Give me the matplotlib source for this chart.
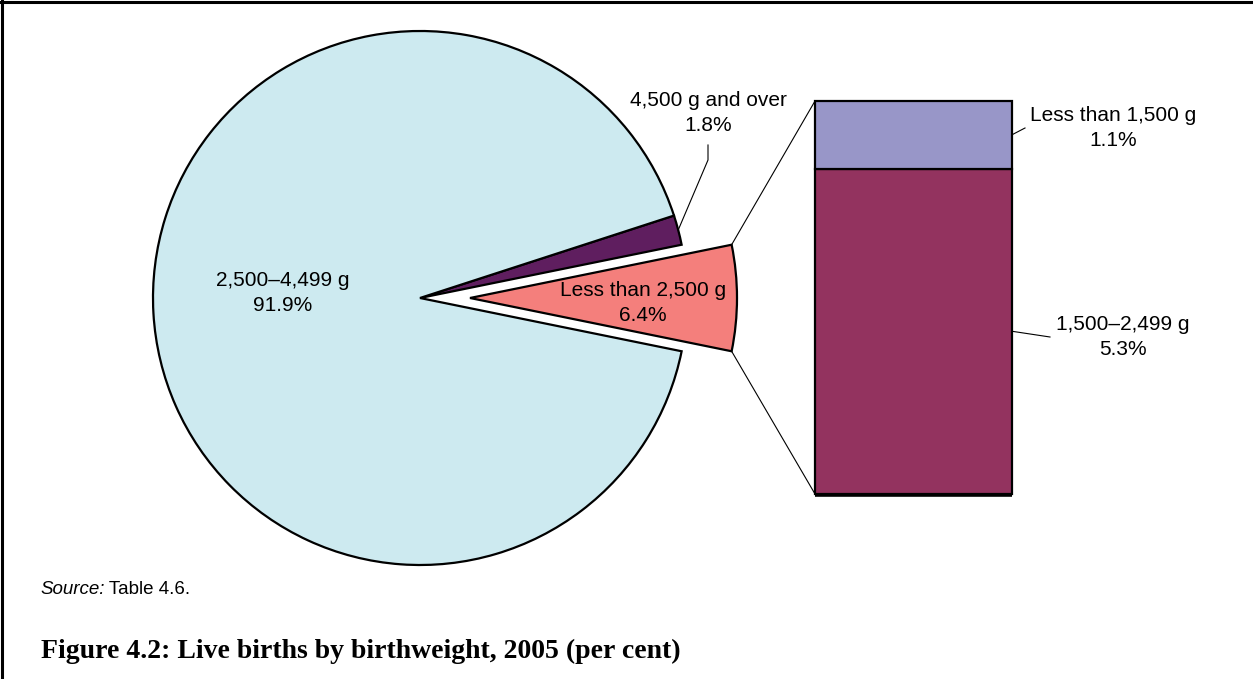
import matplotlib
matplotlib.use("Agg")
import matplotlib.pyplot as plt
from matplotlib.lines import Line2D
import numpy as np

# Birthweight shares (per cent), 2005
pie_labels = ["Less than 2,500 g", "4,500 g and over", "2,500\u20134,499 g"]
pie_values = [6.4, 1.8, 91.9]
pie_colors = ["#F47F7C", "#5F1E5F", "#CDEAF0"]

# Breakdown of the "Less than 2,500 g" slice
bar_labels = ["1,500\u20132,499 g", "Less than 1,500 g"]
bar_values = [5.3, 1.1]
bar_colors = ["#93335F", "#9896C8"]

W, H = 1253, 679
plt.rcParams["font.family"] = ["Liberation Sans", "DejaVu Sans"]

fig = plt.figure(figsize=(W / 100, H / 100), dpi=100)
ax = fig.add_axes([0, 0, 1, 1])

# pixel-like coordinate system (y measured from the bottom)
def py(y):
    return H - y

cx, cy, R = 420, py(298), 267
shift = 50
half = pie_values[0] / sum(pie_values) * 360 / 2

wedges, _ = ax.pie(
    pie_values, colors=pie_colors, startangle=-half, counterclock=True,
    center=(cx, cy), radius=R, explode=[shift, 0, 0], normalize=True,
    wedgeprops=dict(edgecolor="black", linewidth=1.6, joinstyle="miter"),
)

# stacked bar for the breakdown
bx0, bx1 = 815, 1012
by_bottom, by_top = py(494), py(101)
scale = (by_top - by_bottom) / sum(bar_values)
bottom = by_bottom
bar_mid = []
for v, c in zip(bar_values, bar_colors):
    ax.bar((bx0 + bx1) / 2, v * scale, width=bx1 - bx0, bottom=bottom,
           color=c, edgecolor="black", linewidth=1.6)
    bar_mid.append(bottom + v * scale / 2)
    bottom += v * scale
ax.plot([bx0, bx1], [by_bottom - 1, by_bottom - 1], color="black", lw=2.6,
        solid_capstyle="butt")

# connector lines from the exploded slice to the bar
ex = cx + shift
for ang, by in [(half, by_top), (-half, by_bottom)]:
    x0 = ex + R * np.cos(np.radians(ang))
    y0 = cy + R * np.sin(np.radians(ang))
    ax.plot([x0, bx0], [y0, by], color="black", lw=0.8)

fs = 15
ls = 1.42

def fmt(name, v):
    return f"{name}\n{v:.1f}%"

# pie labels
ax.text(643, py(303), fmt(pie_labels[0], pie_values[0]), ha="center",
        va="center", fontsize=fs, linespacing=ls)
ax.text(283, py(293), fmt(pie_labels[2], pie_values[2]), ha="center",
        va="center", fontsize=fs, linespacing=ls)
ax.text(708, py(113), fmt(pie_labels[1], pie_values[1]), ha="center",
        va="center", fontsize=fs, linespacing=ls)
mid_ang = np.radians(half + pie_values[1] / sum(pie_values) * 180)
ax.plot([cx + R * np.cos(mid_ang), 708, 708],
        [cy + R * np.sin(mid_ang), py(160), py(145)], color="black", lw=0.8)

# bar labels
ax.text(1113, py(128), fmt(bar_labels[1], bar_values[1]), ha="center",
        va="center", fontsize=fs, linespacing=ls)
ax.plot([bx1, 1025], [bar_mid[1], py(128)], color="black", lw=0.8)
ax.text(1123, py(337), fmt(bar_labels[0], bar_values[0]), ha="center",
        va="center", fontsize=fs, linespacing=ls)
ax.plot([bx1, 1050], [bar_mid[0], py(337)], color="black", lw=0.8)

# source note and caption
src = ax.text(40, py(590), "Source:", style="italic", fontsize=13.5,
              ha="left", va="center")
ax.annotate(" Table 4.6.", xy=(1, 0.5), xycoords=src, ha="left",
            va="center", fontsize=13.5)
ax.text(41, py(651), "Figure 4.2: Live births by birthweight, 2005 (per cent)",
        family=["Liberation Serif", "DejaVu Serif"], weight="bold",
        fontsize=20, ha="left", va="center")

ax.set_xlim(0, W)
ax.set_ylim(0, H)
ax.set_aspect("auto")
ax.axis("off")

# frame on the top and left edges
fig.add_artist(Line2D([0, 1], [1 - 1.5 / H, 1 - 1.5 / H], color="black",
                      lw=2.2, transform=fig.transFigure))
fig.add_artist(Line2D([1.5 / W, 1.5 / W], [0, 1], color="black",
                      lw=2.2, transform=fig.transFigure))

fig.savefig("out.png", dpi=100)
